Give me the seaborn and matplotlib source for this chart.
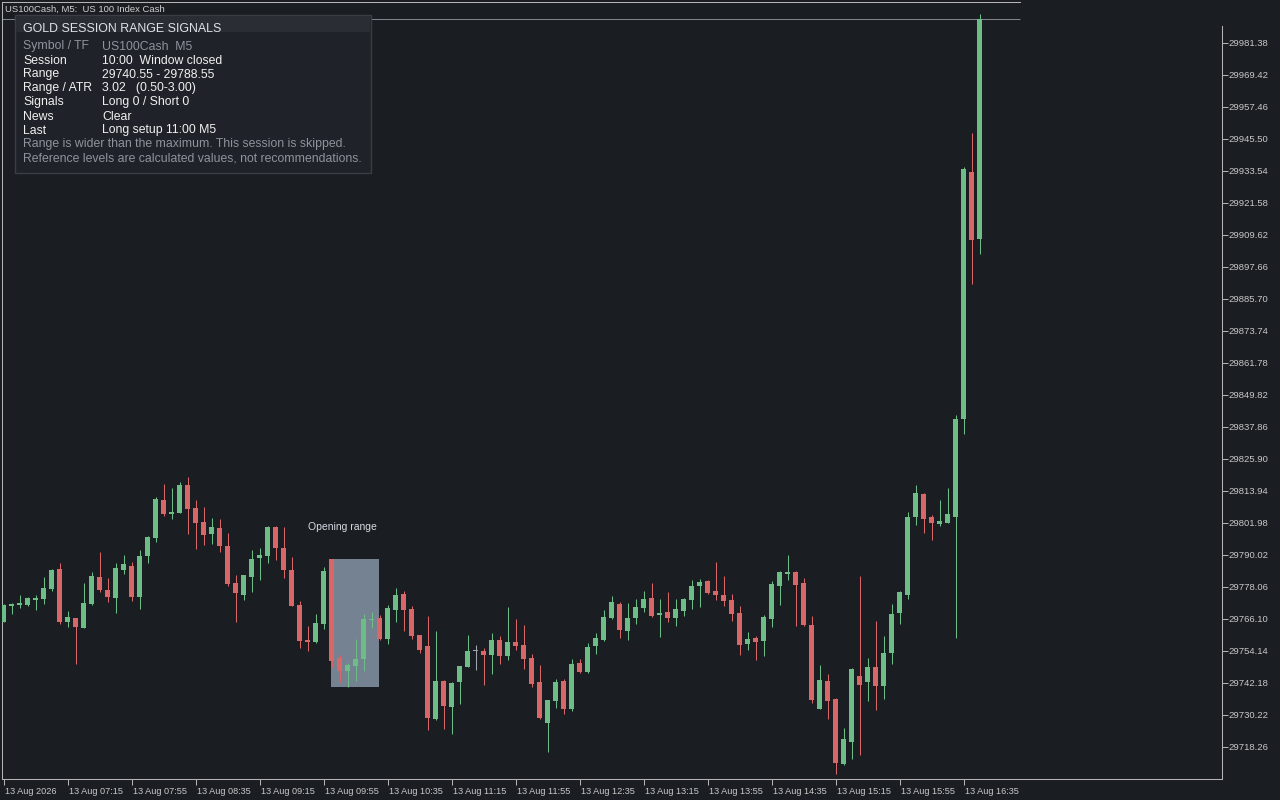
import numpy as np
import pandas as pd
import seaborn as sns
import matplotlib.pyplot as plt
from matplotlib.patches import Rectangle
import matplotlib.transforms as mtransforms

# M5 candles, 13 Aug 2026, 06:35 -> 16:45
opens = [29765.1, 29771.1, 29771.3, 29771.3, 29773.3, 29773.7, 29777.3, 29784.8, 29765.0, 29766.5,
         29762.9, 29771.6, 29781.8, 29776.9, 29774.1, 29784.4, 29785.9, 29774.5, 29789.7, 29796.5,
         29810.6, 29805.4, 29805.9, 29816.2, 29807.6, 29802.4, 29797.9, 29800.1, 29793.4, 29779.6,
         29775.1, 29781.8, 29789.0, 29789.7, 29800.5, 29792.6, 29784.4, 29771.3, 29758.3, 29757.5,
         29764.2, 29788.5, 29751.5, 29746.7, 29748.5, 29751.2, 29765.6, 29766.5, 29758.6, 29769.5,
         29775.5, 29769.8, 29760.1, 29756.0, 29728.7, 29742.9, 29733.2, 29742.6, 29748.2, 29754.1,
         29754.1, 29752.7, 29758.3, 29752.3, 29757.5, 29756.4, 29751.5, 29742.6, 29727.2, 29735.5,
         29742.9, 29732.5, 29749.7, 29746.3, 29756.0, 29758.3, 29766.5, 29771.7, 29761.6, 29766.5,
         29770.2, 29774.0, 29767.6, 29768.7, 29766.5, 29769.1, 29773.2, 29778.4, 29780.3, 29776.6,
         29775.1, 29773.2, 29768.3, 29756.8, 29759.0, 29757.9, 29766.1, 29778.4, 29782.9, 29783.7,
         29779.6, 29763.9, 29732.5, 29742.9, 29736.2, 29711.9, 29720.1, 29744.8, 29742.6, 29748.2,
         29741.1, 29753.4, 29768.4, 29775.1, 29804.2, 29812.8, 29804.2, 29801.6, 29802.0, 29804.2,
         29840.9, 29933.2, 29908.1]
highs = [29771.6, 29772.2, 29775.1, 29774.3, 29775.2, 29781.8, 29784.6, 29787.0, 29769.1, 29766.6,
         29779.6, 29783.7, 29791.2, 29781.4, 29786.9, 29790.0, 29787.4, 29791.9, 29797.1, 29811.7,
         29816.6, 29815.1, 29817.3, 29819.2, 29810.6, 29808.0, 29803.9, 29803.5, 29798.3, 29782.6,
         29782.7, 29791.9, 29792.5, 29800.7, 29800.9, 29800.4, 29789.3, 29772.8, 29763.5, 29768.0,
         29785.5, 29788.55, 29752.7, 29749.7, 29758.6, 29768.0, 29768.7, 29767.5, 29771.3, 29777.7,
         29776.6, 29771.0, 29760.3, 29767.2, 29761.6, 29743.3, 29742.4, 29748.7, 29760.1, 29756.4,
         29755.3, 29760.9, 29759.8, 29770.6, 29766.1, 29763.9, 29753.0, 29748.9, 29736.0, 29743.7,
         29743.7, 29751.2, 29751.2, 29757.1, 29760.9, 29769.5, 29774.7, 29772.5, 29772.1, 29773.6,
         29776.6, 29779.6, 29773.6, 29776.2, 29773.6, 29773.8, 29780.7, 29781.1, 29780.5, 29787.4,
         29782.2, 29775.5, 29771.0, 29761.2, 29759.8, 29767.6, 29780.3, 29784.0, 29790.0, 29784.0,
         29781.4, 29767.2, 29748.9, 29745.6, 29736.6, 29725.4, 29747.6, 29782.2, 29751.5, 29765.4,
         29759.8, 29771.7, 29776.6, 29806.1, 29816.2, 29813.2, 29805.0, 29810.6, 29815.1, 29842.4,
         29935.0, 29947.7, 29992.2]
lows = [29764.9, 29768.0, 29770.3, 29771.1, 29769.5, 29771.7, 29776.6, 29764.2, 29763.2, 29749.4,
        29762.7, 29771.4, 29776.3, 29772.6, 29768.5, 29783.1, 29773.0, 29770.0, 29787.2, 29795.0,
        29804.6, 29803.5, 29805.7, 29797.9, 29792.3, 29793.9, 29794.1, 29791.3, 29778.4, 29765.0,
        29773.1, 29776.3, 29780.7, 29787.2, 29788.2, 29781.4, 29770.8, 29755.3, 29754.2, 29757.1,
        29762.4, 29748.0, 29742.7, 29740.55, 29743.1, 29746.7, 29762.6, 29758.4, 29756.8, 29765.1,
        29761.6, 29758.6, 29753.4, 29724.6, 29728.4, 29725.0, 29723.1, 29734.3, 29748.0, 29747.0,
        29741.4, 29745.6, 29749.3, 29750.8, 29754.5, 29747.4, 29740.7, 29728.7, 29716.4, 29732.8,
        29730.6, 29731.7, 29745.9, 29745.9, 29753.0, 29757.9, 29766.1, 29759.0, 29758.3, 29764.2,
        29768.7, 29767.0, 29759.4, 29765.0, 29763.5, 29767.2, 29769.8, 29770.6, 29775.5, 29773.2,
        29771.0, 29765.4, 29752.7, 29754.5, 29750.8, 29752.3, 29763.1, 29771.3, 29780.7, 29763.5,
        29763.5, 29734.7, 29732.3, 29728.7, 29708.2, 29711.7, 29713.8, 29715.3, 29735.5, 29732.1,
        29736.2, 29749.3, 29764.2, 29773.6, 29801.2, 29798.3, 29795.6, 29800.9, 29801.8, 29759.0,
        29835.3, 29891.3, 29902.5]
closes = [29771.3, 29771.8, 29772.1, 29774.1, 29774.1, 29777.7, 29784.4, 29764.9, 29766.9, 29763.2,
          29772.1, 29782.2, 29776.9, 29774.5, 29785.2, 29786.7, 29774.5, 29789.7, 29796.8, 29811.0,
          29805.4, 29806.1, 29816.2, 29807.2, 29802.1, 29797.5, 29800.5, 29793.4, 29779.2, 29775.8,
          29782.6, 29788.5, 29790.0, 29800.5, 29792.6, 29784.4, 29771.0, 29757.9, 29757.5, 29764.6,
          29784.0, 29750.5, 29746.7, 29748.9, 29751.2, 29766.1, 29766.1, 29758.6, 29770.2, 29775.1,
          29769.5, 29759.8, 29754.5, 29729.1, 29742.9, 29733.6, 29742.2, 29748.5, 29754.1, 29754.1,
          29752.7, 29758.3, 29752.3, 29757.5, 29756.0, 29751.2, 29741.8, 29729.1, 29735.8, 29742.6,
          29732.5, 29749.3, 29746.3, 29755.6, 29759.0, 29766.9, 29772.5, 29762.0, 29766.5, 29770.6,
          29773.6, 29767.2, 29768.3, 29766.5, 29769.8, 29773.6, 29778.4, 29779.9, 29775.8, 29775.1,
          29772.8, 29768.0, 29756.4, 29758.6, 29757.5, 29766.9, 29779.2, 29783.7, 29783.7, 29778.8,
          29763.9, 29735.8, 29743.3, 29735.5, 29712.3, 29721.3, 29747.4, 29741.4, 29748.2, 29741.1,
          29753.4, 29768.0, 29776.2, 29804.2, 29813.2, 29803.5, 29802.0, 29802.7, 29805.4, 29840.9,
          29934.3, 29907.8, 29990.35]

xtick_labels = ["13 Aug 2026", "13 Aug 07:15", "13 Aug 07:55", "13 Aug 08:35", "13 Aug 09:15",
                "13 Aug 09:55", "13 Aug 10:35", "13 Aug 11:15", "13 Aug 11:55", "13 Aug 12:35",
                "13 Aug 13:15", "13 Aug 13:55", "13 Aug 14:35", "13 Aug 15:15", "13 Aug 15:55",
                "13 Aug 16:35"]
ytick_values = [29718.26, 29730.22, 29742.18, 29754.14, 29766.10, 29778.06, 29790.02, 29801.98,
                29813.94, 29825.90, 29837.86, 29849.82, 29861.78, 29873.74, 29885.70, 29897.66,
                29909.62, 29921.58, 29933.54, 29945.50, 29957.46, 29969.42, 29981.38]

bid_price = 29990.35
range_high = 29788.55
range_low = 29740.55
range_start = 41   # 10:00 candle
range_end = 47     # 10:30 candle

chart_title = "US100Cash, M5:  US 100 Index Cash"
panel_title = "GOLD SESSION RANGE SIGNALS"
panel_labels = ["Symbol / TF", "Session", "Range", "Range / ATR", "Signals", "News", "Last"]
panel_values = ["US100Cash  M5", "10:00  Window closed", "29740.55 - 29788.55", "3.02   (0.50-3.00)",
                "Long 0 / Short 0", "Clear", "Long setup 11:00 M5"]
panel_notes = ["Range is wider than the maximum. This session is skipped.",
               "Reference levels are calculated values, not recommendations."]

# colours
BG = '#1a1d22'
UP = '#6cbe86'
DOWN = '#d96767'
FLAT = '#a3a7ad'
AXIS = '#b4b4b4'
TXT = '#c8c8c8'

sns.set_theme(style='dark', rc={'axes.facecolor': BG, 'figure.facecolor': BG})
plt.rcParams['font.family'] = ['Liberation Sans', 'DejaVu Sans']

df = pd.DataFrame({'open': opens, 'high': highs, 'low': lows, 'close': closes})
df['idx'] = np.arange(len(df))
df['color'] = np.where(df['close'] > df['open'], UP, np.where(df['close'] < df['open'], DOWN, FLAT))
df['bottom'] = df[['open', 'close']].min(axis=1)
df['body'] = (df['close'] - df['open']).abs().clip(lower=0.37)

W, H = 1280, 800
fig = plt.figure(figsize=(12.8, 8), dpi=100)
ax = fig.add_axes([2 / W, 21 / H, 1220 / W, 777 / H])
ax.set_facecolor(BG)

x0 = -0.1875
ax.set_xlim(x0, x0 + 1220 / 8)
ax.set_ylim(29706.30, 29996.70)

# opening range box
ax.add_patch(Rectangle((range_start - 0.125, range_low), range_end - range_start, range_high - range_low,
                       facecolor='#758291', edgecolor='none', zorder=1))
ax.text(38, 29800.6, 'Opening range', ha='left', va='center', fontsize=7.5, color='#d7dce4', zorder=4)

# bid line
ax.hlines(bid_price, x0, 127.06, color='#7d848c', linewidth=0.75, zorder=1.5)

# candles
ax.vlines(df['idx'], df['low'], df['high'], colors=df['color'], linewidth=0.75, zorder=2)
ax.bar(df['idx'], df['body'], bottom=df['bottom'], width=0.625, color=df['color'], linewidth=0, zorder=3)

# axes frame
for side in ['left', 'bottom', 'right', 'top']:
    ax.spines[side].set_visible(True)
    ax.spines[side].set_color(AXIS)
    ax.spines[side].set_linewidth(0.75)
ax.spines['top'].set_bounds(x0, 127.06)
ax.spines['right'].set_bounds(29706.30, 29987.73)

ax.yaxis.tick_right()
ax.set_yticks(ytick_values)
ax.set_yticklabels([f'{v:.2f}' for v in ytick_values])
ax.tick_params(axis='y', direction='out', length=4, width=0.75, colors=AXIS, labelcolor=TXT,
               labelsize=6.8, pad=1, right=True, left=False)
ax.set_xticks(np.arange(len(xtick_labels)) * 8)
ax.set_xticklabels(xtick_labels, ha='left')
ax.tick_params(axis='x', direction='out', length=4, width=0.75, colors=AXIS, labelcolor=TXT,
               labelsize=6.6, pad=2, bottom=True)
shift = mtransforms.ScaledTranslation(1.5 / 100, 0, fig.dpi_scale_trans)
for lbl in ax.get_xticklabels():
    lbl.set_transform(lbl.get_transform() + shift)
ax.grid(False)

# chart title
fig.text(5 / W, 1 - 9 / H, chart_title, ha='left', va='center', fontsize=6.8, color='#d0d0d0')


def fpos(x, y):
    return x / W, 1 - y / H


# info panel
fig.add_artist(Rectangle(fpos(15, 173), 356 / W, 158 / H, transform=fig.transFigure,
                         facecolor='#1f2228', edgecolor='#3a3e44', linewidth=1, zorder=10))
fig.add_artist(Rectangle(fpos(16, 32), 354 / W, 16 / H, transform=fig.transFigure,
                         facecolor='#2a2e34', edgecolor='none', zorder=10.5))
fig.text(*fpos(23, 29.5), panel_title, ha='left', va='center', fontsize=8.9, color='#dfe3e8', zorder=11)
for k, (lab, val) in enumerate(zip(panel_labels, panel_values)):
    col = '#8e949c' if k == 0 else '#f0f0f0'
    fig.text(*fpos(23, 46.5 + 14 * k), lab, ha='left', va='center', fontsize=8.8, color=col, zorder=11)
    fig.text(*fpos(102, 46.5 + 14 * k), val, ha='left', va='center', fontsize=8.8, color=col, zorder=11)
for k, note in enumerate(panel_notes):
    fig.text(*fpos(23, 144.5 + 14 * k), note, ha='left', va='center', fontsize=8.8, color='#8e949c',
             zorder=11)

fig.savefig('out.png', dpi=100, facecolor=BG)
